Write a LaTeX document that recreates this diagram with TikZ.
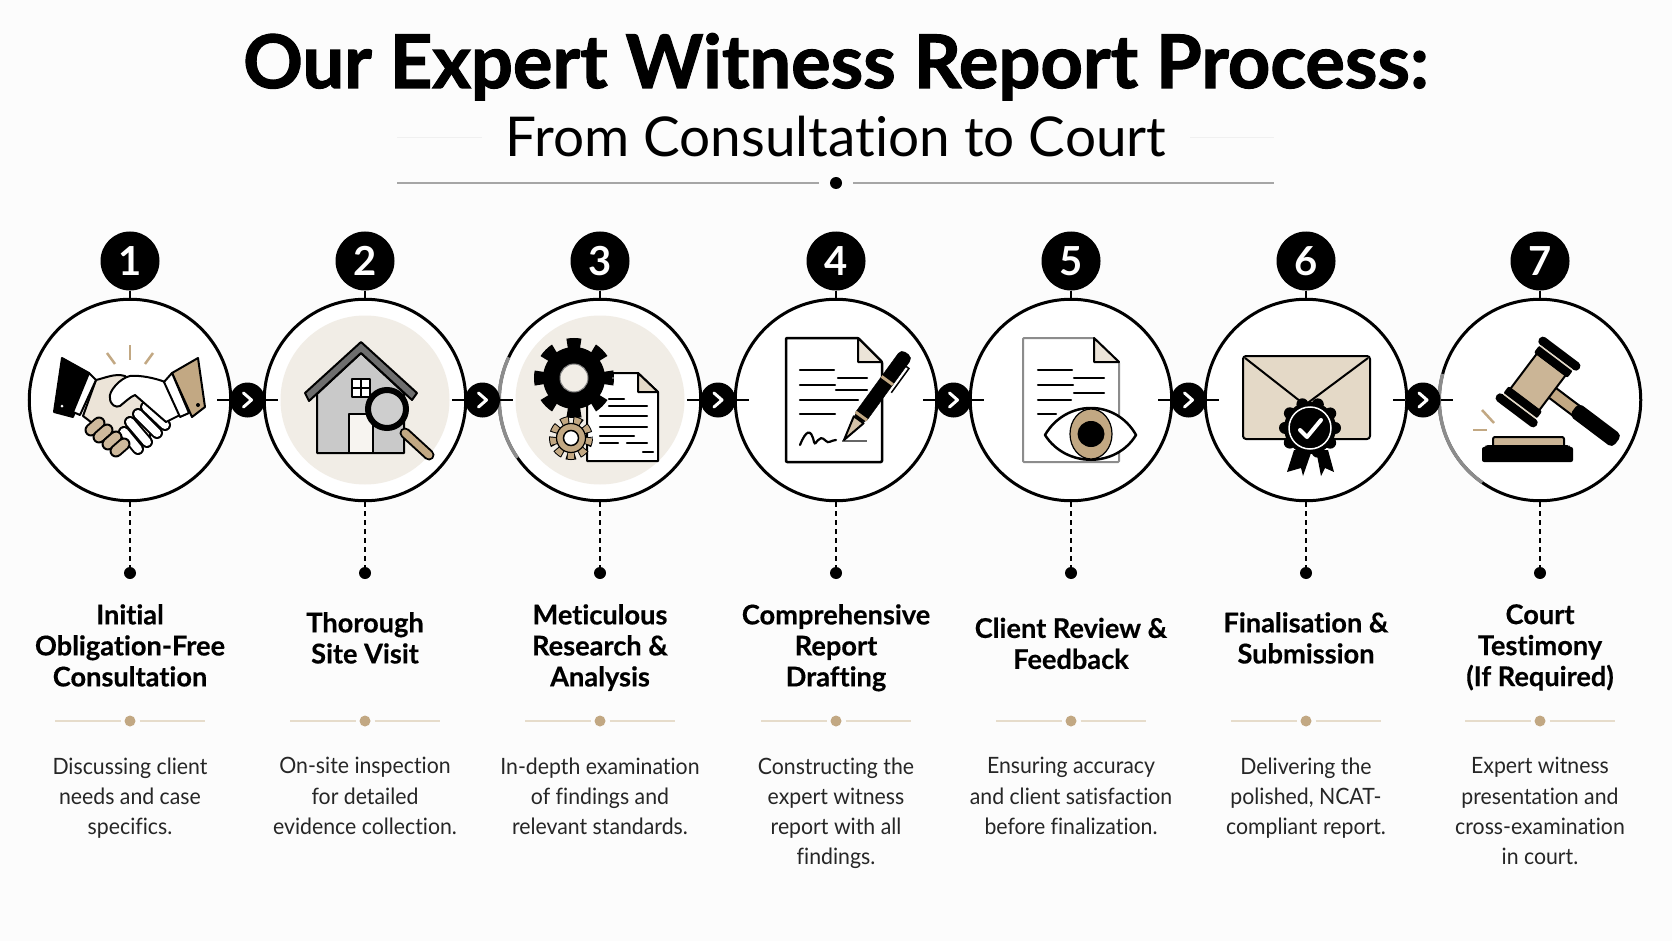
\documentclass[tikz,border=0pt]{standalone}
\usepackage{fontspec}
\setmainfont{Lato}[Ligatures=NoCommon]
\definecolor{inktan}{HTML}{C2A883}
\definecolor{palebeige}{HTML}{F1EDE6}
\definecolor{softtan}{HTML}{E4D9C7}
\definecolor{ruletan}{HTML}{E6DCCB}
\definecolor{roofgray}{HTML}{6E6E6E}
\definecolor{wallgray}{HTML}{C9C9C9}
\tikzset{
  stepcirc/.style={circle,draw=black,fill=white,line width=3,minimum size=201.5,inner sep=0},
  numbadge/.style={circle,fill=black,text=white,minimum size=59,inner sep=0,font=\fontsize{40}{40}\selectfont\bfseries},
  chevnode/.style={circle,fill=black,minimum size=35,inner sep=0,path picture={
      \draw[white,line width=3,line cap=round,line join=round,shift={(path picture bounding box.center)}] (-4,-7) -- (4,0) -- (-4,7);}},
  blackdot/.style={circle,fill=black,minimum size=12,inner sep=0},
  tandot/.style={circle,fill=inktan,minimum size=11,inner sep=0,outer sep=4},
  steptitle/.style={anchor=north,inner sep=0,align=center,text=black,font=\fontsize{27.2}{31}\selectfont\bfseries\addfontfeature{FakeBold=0.4},execute at begin node=\strut},
  stepdesc/.style={anchor=north,inner sep=0,align=center,text=black!85,font=\fontsize{22.5}{30.2}\selectfont\addfontfeature{FakeStretch=0.945},execute at begin node=\strut},
  steplink/.style={line width=2.5},
  stepdash/.style={line width=1.5,dash pattern=on 5 off 4},
  tanrule/.style={line width=2,ruletan},
  ink/.style={draw=black,line width=2,line join=round},
  txtline/.style={black,line width=2.2,line cap=round},
  spark/.style={inktan,line width=2.5},
  fadearc/.style={black!45,line width=3.5},
  whitefinger/.style={double=white,double distance=8,line width=2,line cap=round},
  tanfinger/.style={double=inktan!80,double distance=9,line width=2,line cap=round}
}
\begin{document}
\begin{tikzpicture}[x=1pt,y=-1pt]
    \fill[white!99!black] (0,0) rectangle (1672,941);
    \useasboundingbox (0,0) rectangle (1672,941);

    \node[anchor=base,inner sep=0,font=\fontsize{74}{74}\selectfont\bfseries\addfontfeature{FakeBold=1.5}] (maintitle) at (836,88) {Our Expert Witness Report Process:};
    \node[anchor=base,inner sep=0,font=\fontsize{54.9}{54.9}\selectfont] (subtitle) at (836,157) {From Consultation to Court};
    \coordinate (fadeL1) at (397,138);
    \coordinate (fadeL2) at (482,138);
    \coordinate (fadeR1) at (1190,138);
    \coordinate (fadeR2) at (1274,138);
    \draw[line width=1,black!6] (fadeL1) -- (fadeL2);
    \draw[line width=1,black!6] (fadeR1) -- (fadeR2);
    \node[blackdot,outer sep=11] (titledot) at (836,183) {};
    \coordinate (titleL) at (397,183);
    \coordinate (titleR) at (1274,183);
    \draw[line width=1.5,black!35] (titleL) -- (titledot) -- (titleR);

    \node[stepcirc] (circ1) at (130,400) {};
    \node[stepcirc] (circ2) at (365,400) {};
    \node[stepcirc] (circ3) at (600,400) {};
    \node[stepcirc] (circ4) at (836,400) {};
    \node[stepcirc] (circ5) at (1071,400) {};
    \node[stepcirc] (circ6) at (1306,400) {};
    \node[stepcirc] (circ7) at (1540,400) {};

    \node[numbadge] (num1) at (130,261) {1};
    \node[numbadge] (num2) at (365,261) {2};
    \node[numbadge] (num3) at (600,261) {3};
    \node[numbadge] (num4) at (836,261) {4};
    \node[numbadge] (num5) at (1071,261) {5};
    \node[numbadge] (num6) at (1306,261) {6};
    \node[numbadge] (num7) at (1540,261) {7};
    \draw[steplink] (num1) -- (circ1);
    \draw[steplink] (num2) -- (circ2);
    \draw[steplink] (num3) -- (circ3);
    \draw[steplink] (num4) -- (circ4);
    \draw[steplink] (num5) -- (circ5);
    \draw[steplink] (num6) -- (circ6);
    \draw[steplink] (num7) -- (circ7);

    \begin{scope}[shift={(130,400)}]
      \draw[spark] (0,-55) -- (0,-40);
      \draw[spark] (-23,-47) -- (-15,-36);
      \draw[spark] (23,-47) -- (15,-36);
      \filldraw[ink,fill=softtan!70] (-34,-20) .. controls (-25,-22) and (-15,-27) .. (-5,-24) -- (20,0) -- (20,40) -- (-5,48) -- (-47,16) -- cycle;
      \draw[whitefinger] (16,7) -- (35,25);
      \draw[whitefinger] (8,14) -- (27,33);
      \draw[whitefinger] (0,22) -- (17,42);
      \draw[whitefinger] (-6,32) -- (8,49);
      \draw[tanfinger] (-39,30) -- (-31,23);
      \draw[tanfinger] (-31,37) -- (-23,30);
      \draw[tanfinger] (-22,44) -- (-14,37);
      \draw[tanfinger] (-14,51) -- (-6,44);
      \filldraw[ink,fill=white] (35,-18) .. controls (25,-22) and (10,-25) .. (0,-24) .. controls (-10,-22) and (-22,-8) .. (-20,-2) .. controls (-20,5) and (-14,8) .. (-10,6) .. controls (-5,2) and (0,-3) .. (5,-5) -- (36,22) -- (50,15) -- cycle;
      \filldraw[ink,fill=black] (-68,-42) -- (-41,-27) -- (-57,17) -- (-76,12) -- cycle;
      \filldraw[ink,fill=white] (-41,-27) -- (-34,-20) -- (-50,15) -- (-57,12) -- cycle;
      \filldraw[ink,fill=inktan] (68,-42) -- (75,7) -- (62,17) -- (42,-27) -- cycle;
      \filldraw[ink,fill=white] (42,-27) -- (34,-18) -- (50,17) -- (59,13) -- cycle;
      \fill[white] (-68,6) circle (1.5);
      \fill[black] (68,5) circle (2);
    \end{scope}

    \begin{scope}[shift={(365,400)}]
      \fill[palebeige] (0,0) circle (84.5);
      \filldraw[ink,fill=wallgray] (-48,53) -- (-48,-6) -- (-4,-47) -- (39,-7) -- (39,53) -- cycle;
      \filldraw[ink,fill=roofgray] (-60,-7) -- (-4,-58) -- (52,-7) -- (47,0) -- (-4,-47) -- (-56,1) -- cycle;
      \filldraw[ink,fill=white] (-13,-21) rectangle (5,-3);
      \draw[ink] (-4,-21) -- (-4,-3);
      \draw[ink] (-13,-12) -- (5,-12);
      \filldraw[ink,fill=palebeige!60] (-16,14) rectangle (8,53);
      \draw[double=inktan,double distance=7,line width=2,line cap=round] (40,33) -- (64,55);
      \filldraw[draw=black,line width=6,fill=wallgray!90] (22,9) circle (19);
    \end{scope}

    \begin{scope}[shift={(600,400)}]
      \draw[fadearc] (205:100.75) arc[start angle=205,end angle=145,radius=100.75];
      \fill[palebeige] (0,0) circle (84.5);
      \filldraw[ink,fill=white] (-13,-27) -- (38,-27) -- (58,-8) -- (58,61) -- (-13,61) -- cycle;
      \filldraw[ink,fill=softtan] (38,-27) -- (38,-8) -- (58,-8) -- cycle;
      \draw[txtline] (9,-1) -- (24,-1);
      \draw[txtline] (9,6) -- (47,6);
      \draw[txtline] (0,16) -- (47,16);
      \draw[txtline] (0,27) -- (47,27);
      \draw[txtline] (0,36) -- (34,36);
      \draw[txtline] (0,43) -- (18,43);
      \draw[txtline] (27,43) -- (47,43);
      \draw[txtline] (43,52) -- (53,52);
      \draw[line width=14,dash pattern=on 13 off 12.9,dash phase=6.5] (-26,-22) circle (33);
      \fill[black] (-26,-22) circle (31);
      \filldraw[draw=black!50,line width=1,fill=palebeige] (-26,-22) circle (14);
      \draw[line width=10,dash pattern=on 8 off 3.87,dash phase=1] (-29,38) circle (17);
      \draw[inktan,line width=8,dash pattern=on 6 off 5.87] (-29,38) circle (17);
      \filldraw[draw=black,line width=1.2,fill=inktan] (-29,38) circle (14.5);
      \filldraw[draw=black,line width=1.5,fill=white] (-29,38) circle (7.5);
    \end{scope}

    \begin{scope}[shift={(836,400)}]
      \filldraw[ink,fill=white,line width=2.5,rounded corners=1] (-50,-62) -- (22,-62) -- (46,-38) -- (46,62) -- (-50,62) -- cycle;
      \filldraw[ink,fill=softtan!70] (22,-62) -- (22,-38) -- (46,-38) -- cycle;
      \draw[txtline] (-36,-30) -- (-2,-30);
      \draw[txtline] (2,-22) -- (31,-22);
      \draw[txtline] (-36,-15) -- (-1,-15);
      \draw[txtline] (0,-10) -- (31,-10);
      \draw[txtline] (-36,0) -- (22,0);
      \draw[txtline] (-36,14) -- (-1,14);
      \draw[txtline] (-36,45) .. controls (-30,30) and (-25,28) .. (-22,42) .. controls (-20,48) and (-18,32) .. (-10,41) .. controls (-8,44) and (-4,40) .. (0,40);
      \draw[line width=1.5,black!60] (6,41) -- (31,41);
      \begin{scope}[shift={(8,40)},rotate=54]
        \filldraw[ink,fill=inktan!70] (0,0) -- (25,-6) -- (25,6) -- cycle;
        \filldraw[fill=black,draw=black,rounded corners=5] (25,-7) rectangle (107,7);
        \fill[inktan] (28,-7) rectangle (31,7);
        \fill[inktan] (72,-7) rectangle (75,7);
        \draw[line width=1.5] (66,10.5) -- (96,10.5) -- (96,7);
      \end{scope}
    \end{scope}

    \begin{scope}[shift={(1071,400)}]
      \filldraw[draw=black!45,line width=2,fill=white,rounded corners=1] (-48,-62) -- (23,-62) -- (48,-38) -- (48,62) -- (-48,62) -- cycle;
      \filldraw[ink,fill=softtan!70] (23,-62) -- (23,-38) -- (48,-38) -- cycle;
      \draw[txtline] (-33,-30) -- (1,-30);
      \draw[txtline] (3,-22) -- (33,-22);
      \draw[txtline] (-33,-15) -- (2,-15);
      \draw[txtline] (3,-7) -- (33,-7);
      \draw[txtline] (-33,0) -- (0,0);
      \draw[txtline] (-33,14) -- (-15,14);
      \filldraw[draw=black,line width=2.5,fill=white,line join=round] (-26,35) .. controls (-5,-1) and (45,-1) .. (65,35) .. controls (45,68) and (-5,68) .. cycle;
      \filldraw[draw=black,line width=1.2,fill=inktan] (20,34) ellipse (21 and 25);
      \fill[black] (20,34) ellipse (13.5 and 13);
    \end{scope}

    \begin{scope}[shift={(1306,400)}]
      \filldraw[ink,fill=softtan,rounded corners=3] (-63,-44) rectangle (64,39);
      \draw[ink] (-61,-42) -- (-1,5) -- (62,-42);
      \fill[black] (-12,50) -- (-19,72) -- (-5,68) -- (-3,76) -- (6,50) -- cycle;
      \fill[black] (10,50) -- (15,76) -- (19,68) -- (28,72) -- (22,50) -- cycle;
      \fill[black] (4,28) circle (26);
      \draw[line width=12,line cap=round,dash pattern=on 0 off 15.7] (4,28) circle (25);
      \draw[white,line width=1.5] (4,28) circle (21);
      \draw[white,line width=4,line cap=round,line join=round] (-6,30) -- (1,37) -- (15,20);
    \end{scope}

    \begin{scope}[shift={(1540,400)}]
      \draw[fadearc] (195:100.75) arc[start angle=195,end angle=125,radius=100.75];
      \draw[spark] (-58,10) -- (-46,23);
      \draw[spark] (-67,30) -- (-53,30);
      \filldraw[ink,fill=inktan!85,rounded corners=2] (-47,37) rectangle (24,49);
      \fill[black,rounded corners=2] (-58,47) -- (-54,47) -- (-54,45) -- (29,45) -- (29,47) -- (33,47) -- (33,62) -- (-58,62) -- cycle;
      \begin{scope}[shift={(-2,-18)},rotate=-37]
        \fill[inktan] (17,-6) rectangle (48,6);
        \draw[ink] (17,-6) -- (48,-6);
        \draw[ink] (17,6) -- (48,6);
        \fill[black,rounded corners=5] (45,-8) rectangle (99,8);
        \filldraw[ink,fill=inktan!85] (-18,-22) rectangle (18,22);
        \fill[black,rounded corners=2] (-21,-30) rectangle (21,-21);
        \fill[black,rounded corners=2] (-21,21) rectangle (21,30);
        \fill[black,rounded corners=4] (-25,-40) rectangle (25,-31);
        \fill[black,rounded corners=4] (-25,31) rectangle (25,40);
        \fill[softtan] (-20,-31) rectangle (20,-29.5);
        \fill[softtan] (-20,29.5) rectangle (20,31);
      \end{scope}
    \end{scope}

    \node[chevnode] (chev1) at (247.5,400) {};
    \node[chevnode] (chev2) at (482.5,400) {};
    \node[chevnode] (chev3) at (718,400) {};
    \node[chevnode] (chev4) at (953.5,400) {};
    \node[chevnode] (chev5) at (1188.5,400) {};
    \node[chevnode] (chev6) at (1423,400) {};
    \draw[steplink] ([xshift=-15]circ1.east) -- (chev1) -- ([xshift=15]circ2.west);
    \draw[steplink] ([xshift=-15]circ2.east) -- (chev2) -- ([xshift=15]circ3.west);
    \draw[steplink] ([xshift=-15]circ3.east) -- (chev3) -- ([xshift=15]circ4.west);
    \draw[steplink] ([xshift=-15]circ4.east) -- (chev4) -- ([xshift=15]circ5.west);
    \draw[steplink] ([xshift=-15]circ5.east) -- (chev5) -- ([xshift=15]circ6.west);
    \draw[steplink] ([xshift=-15]circ6.east) -- (chev6) -- ([xshift=15]circ7.west);

    \node[blackdot] (dot1) at (130,573) {};
    \node[blackdot] (dot2) at (365,573) {};
    \node[blackdot] (dot3) at (600,573) {};
    \node[blackdot] (dot4) at (836,573) {};
    \node[blackdot] (dot5) at (1071,573) {};
    \node[blackdot] (dot6) at (1306,573) {};
    \node[blackdot] (dot7) at (1540,573) {};
    \draw[stepdash] (circ1) -- (dot1);
    \draw[stepdash] (circ2) -- (dot2);
    \draw[stepdash] (circ3) -- (dot3);
    \draw[stepdash] (circ4) -- (dot4);
    \draw[stepdash] (circ5) -- (dot5);
    \draw[stepdash] (circ6) -- (dot6);
    \draw[stepdash] (circ7) -- (dot7);

    \node[steptitle] (head1) at (130,604) {Initial\\Obligation-Free\\Consultation};
    \node[steptitle] (head2) at (365,612) {Thorough\\Site Visit};
    \node[steptitle] (head3) at (600,604) {Meticulous\\Research \&\\Analysis};
    \node[steptitle] (head4) at (836,604) {Comprehensive\\Report\\Drafting};
    \node[steptitle] (head5) at (1071,617.5) {Client Review \&\\Feedback};
    \node[steptitle] (head6) at (1306,612) {Finalisation \&\\Submission};
    \node[steptitle] (head7) at (1540,604) {Court\\Testimony\\(If Required)};

    \node[tandot] (tan1) at (130,721) {};
    \node[tandot] (tan2) at (365,721) {};
    \node[tandot] (tan3) at (600,721) {};
    \node[tandot] (tan4) at (836,721) {};
    \node[tandot] (tan5) at (1071,721) {};
    \node[tandot] (tan6) at (1306,721) {};
    \node[tandot] (tan7) at (1540,721) {};
    \coordinate (tanL1) at (55,721);
    \coordinate (tanR1) at (205,721);
    \coordinate (tanL2) at (290,721);
    \coordinate (tanR2) at (440,721);
    \coordinate (tanL3) at (525,721);
    \coordinate (tanR3) at (675,721);
    \coordinate (tanL4) at (761,721);
    \coordinate (tanR4) at (911,721);
    \coordinate (tanL5) at (996,721);
    \coordinate (tanR5) at (1146,721);
    \coordinate (tanL6) at (1231,721);
    \coordinate (tanR6) at (1381,721);
    \coordinate (tanL7) at (1465,721);
    \coordinate (tanR7) at (1615,721);
    \draw[tanrule] (tanL1) -- (tan1) -- (tanR1);
    \draw[tanrule] (tanL2) -- (tan2) -- (tanR2);
    \draw[tanrule] (tanL3) -- (tan3) -- (tanR3);
    \draw[tanrule] (tanL4) -- (tan4) -- (tanR4);
    \draw[tanrule] (tanL5) -- (tan5) -- (tanR5);
    \draw[tanrule] (tanL6) -- (tan6) -- (tanR6);
    \draw[tanrule] (tanL7) -- (tan7) -- (tanR7);

    \node[stepdesc] (desc1) at (130,757.3) {Discussing client\\needs and case\\specifics.};
    \node[stepdesc] (desc2) at (365,757.3) {On-site inspection\\for detailed\\evidence collection.};
    \node[stepdesc] (desc3) at (600,757.3) {In-depth examination\\of findings and\\relevant standards.};
    \node[stepdesc] (desc4) at (836,757.3) {Constructing the\\expert witness\\report with all\\findings.};
    \node[stepdesc] (desc5) at (1071,757.3) {Ensuring accuracy\\and client satisfaction\\before finalization.};
    \node[stepdesc] (desc6) at (1306,757.3) {Delivering the\\polished, NCAT-\\compliant report.};
    \node[stepdesc] (desc7) at (1540,757.3) {Expert witness\\presentation and\\cross-examination\\in court.};
  \end{tikzpicture}
\end{document}
